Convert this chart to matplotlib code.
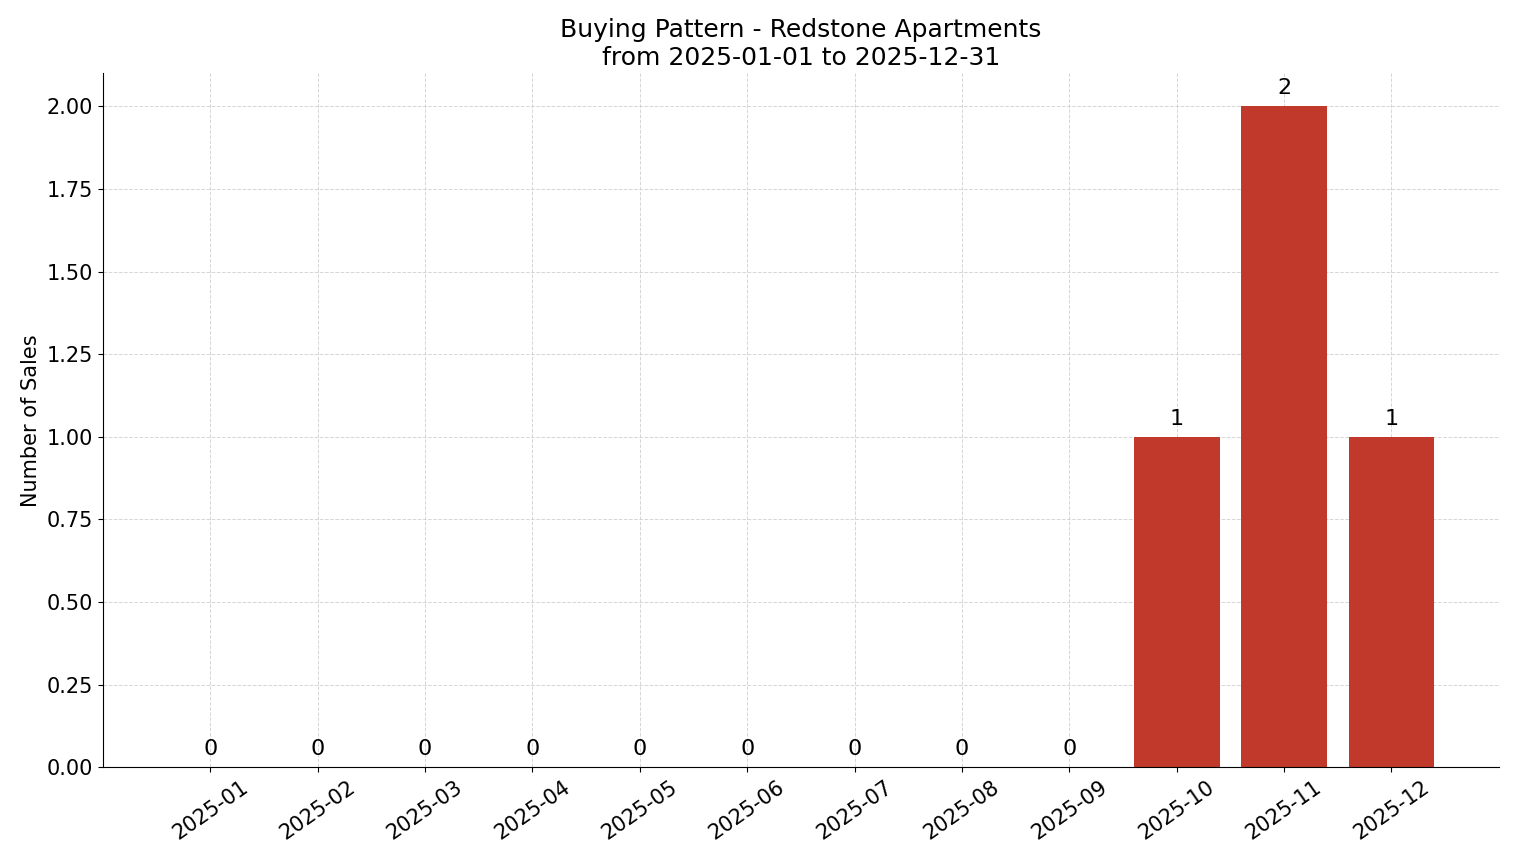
import matplotlib
matplotlib.use('Agg')
import matplotlib.pyplot as plt

# Monthly sales counts
months = ['2025-01', '2025-02', '2025-03', '2025-04', '2025-05', '2025-06',
          '2025-07', '2025-08', '2025-09', '2025-10', '2025-11', '2025-12']
sales = [0, 0, 0, 0, 0, 0, 0, 0, 0, 1, 2, 1]

fig, ax = plt.subplots(figsize=(15.14, 8.63), dpi=100)
x = range(len(months))
bars = ax.bar(x, sales, width=0.8, color='#c0392b', zorder=2)

for b, v in zip(bars, sales):
    ax.text(b.get_x() + b.get_width() / 2, v + 0.025, str(v),
            ha='center', va='bottom', fontsize=16)

ax.set_axisbelow(True)
ax.set_xticks(list(x))
ax.set_xticklabels(months, rotation=35, fontsize=15)
ax.tick_params(axis='y', labelsize=15)
ax.set_xlim(-1, 12)
ax.set_ylim(0, 2.1)
ax.yaxis.set_major_formatter(matplotlib.ticker.FormatStrFormatter('%.2f'))
ax.set_ylabel('Number of Sales', fontsize=15)
ax.set_title('Buying Pattern - Redstone Apartments\nfrom 2025-01-01 to 2025-12-31', fontsize=18)
ax.grid(True, linestyle='--', color='#cccccc', alpha=0.8, linewidth=0.7)
ax.spines['top'].set_visible(False)
ax.spines['right'].set_visible(False)

plt.subplots_adjust(left=0.068, right=0.99, top=0.915, bottom=0.111)
plt.savefig('out.png', dpi=100)
